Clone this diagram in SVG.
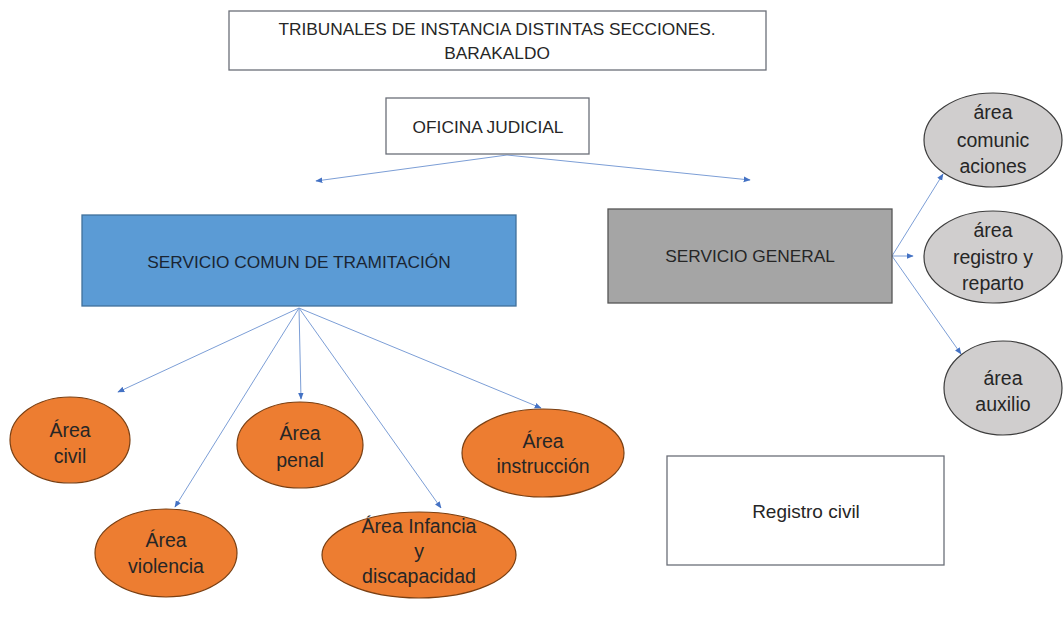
<svg xmlns="http://www.w3.org/2000/svg" width="1063" height="619" viewBox="0 0 1063 619">
<style>
text{font-family:"Liberation Sans",Arial,sans-serif;fill:#262626;text-anchor:middle}
.t{font-size:17.3px}
.e{font-size:19.5px}
.box{fill:#fff;stroke:#6b6f78;stroke-width:1.3}
.org{fill:#ED7D31;stroke:#7a3f12;stroke-width:1.2}
.gry{fill:#D0CECE;stroke:#3d3d3d;stroke-width:1.2}
.c{stroke:#7C9ED6;stroke-width:1;fill:none;marker-end:url(#a)}
</style>
<defs>
<marker id="a" viewBox="0 0 10 10" refX="9" refY="5" markerWidth="7" markerHeight="7" markerUnits="userSpaceOnUse" orient="auto">
<path d="M0,1 L10,5 L0,9 z" fill="#4472C4"/>
</marker>
</defs>
<rect width="1063" height="619" fill="#fff"/>
<g id="connectors">
<line class="c" x1="507" y1="155" x2="316" y2="181"/>
<line class="c" x1="507" y1="155" x2="750" y2="180"/>
<line class="c" x1="299" y1="308" x2="118" y2="392"/>
<line class="c" x1="299" y1="308" x2="175" y2="507"/>
<line class="c" x1="299" y1="308" x2="301" y2="399"/>
<line class="c" x1="299" y1="308" x2="441" y2="508"/>
<line class="c" x1="299" y1="308" x2="541" y2="408"/>
<line class="c" x1="892" y1="256" x2="943" y2="174"/>
<line class="c" x1="892" y1="256" x2="913" y2="256"/>
<line class="c" x1="892" y1="256" x2="961" y2="354"/>
</g>
<g id="title">
<rect class="box" x="229" y="11" width="537" height="59"/>
<text class="t" x="497" y="35">TRIBUNALES DE INSTANCIA DISTINTAS SECCIONES.</text>
<text class="t" x="497" y="59">BARAKALDO</text>
</g>
<g id="oficina">
<rect class="box" x="386" y="98" width="203" height="56"/>
<text class="t" x="488" y="133">OFICINA JUDICIAL</text>
</g>
<g id="sct">
<rect x="82" y="215" width="434" height="91" fill="#5B9BD5" stroke="#41719C" stroke-width="1.3"/>
<text class="t" x="299" y="268" style="fill:#1a2533">SERVICIO COMUN DE TRAMITACIÓN</text>
</g>
<g id="general">
<rect x="608" y="209" width="284" height="94" fill="#A5A5A5" stroke="#555" stroke-width="1.3"/>
<text class="t" x="750" y="262">SERVICIO GENERAL</text>
</g>
<g id="registro-civil">
<rect class="box" x="667" y="456" width="277" height="109"/>
<text class="t" x="806" y="518" style="font-size:19px">Registro civil</text>
</g>
<g id="civil">
<ellipse class="org" cx="70" cy="440" rx="60" ry="43"/>
<text class="e" x="70" y="437">Área</text>
<text class="e" x="70" y="463">civil</text>
</g>
<g id="penal">
<ellipse class="org" cx="300" cy="445" rx="63" ry="43"/>
<text class="e" x="300" y="440">Área</text>
<text class="e" x="300" y="467">penal</text>
</g>
<g id="instruccion">
<ellipse class="org" cx="543" cy="453" rx="81" ry="44"/>
<text class="e" x="543" y="448">Área</text>
<text class="e" x="543" y="473">instrucción</text>
</g>
<g id="violencia">
<ellipse class="org" cx="166" cy="553" rx="71" ry="44"/>
<text class="e" x="166" y="547">Área</text>
<text class="e" x="166" y="573">violencia</text>
</g>
<g id="infancia">
<ellipse class="org" cx="419" cy="555" rx="97" ry="43"/>
<text class="e" x="419" y="533">Área Infancia</text>
<text class="e" x="419" y="558">y</text>
<text class="e" x="419" y="583">discapacidad</text>
</g>
<g id="comunicaciones">
<ellipse class="gry" cx="993" cy="140" rx="69" ry="47"/>
<text class="e" x="993" y="119">área</text>
<text class="e" x="993" y="147">comunic</text>
<text class="e" x="993" y="173">aciones</text>
</g>
<g id="registro-reparto">
<ellipse class="gry" cx="993" cy="257" rx="69" ry="46"/>
<text class="e" x="993" y="237">área</text>
<text class="e" x="993" y="264">registro y</text>
<text class="e" x="993" y="290">reparto</text>
</g>
<g id="auxilio">
<ellipse class="gry" cx="1003" cy="388" rx="59" ry="47"/>
<text class="e" x="1003" y="385">área</text>
<text class="e" x="1003" y="411">auxilio</text>
</g>
</svg>
